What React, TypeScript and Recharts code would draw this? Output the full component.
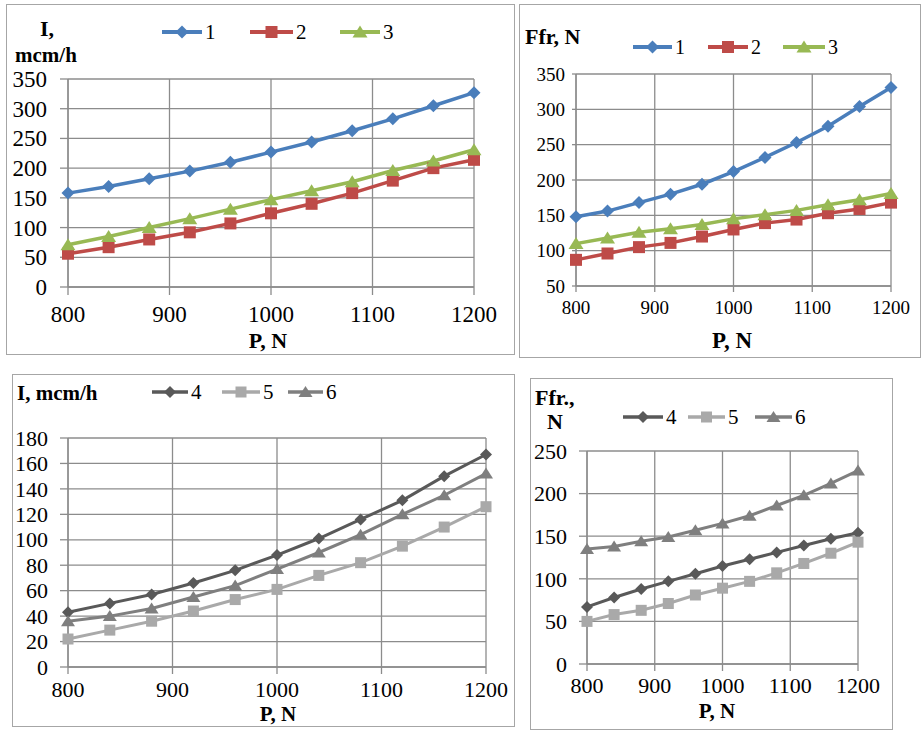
import React from 'react';
import { LineChart, Line, XAxis, YAxis, CartesianGrid } from 'recharts';

// load on the pin, N
const P = [800, 840, 880, 920, 960, 1000, 1040, 1080, 1120, 1160, 1200];
const X_TICKS = [800, 900, 1000, 1100, 1200];

// wear rate I, mcm/h (top)
const I_1 = [158, 169, 182, 195, 210, 227, 244, 263, 283, 305, 327];
const I_2 = [56, 67, 80, 92, 107, 124, 140, 158, 179, 200, 214];
const I_3 = [71, 85, 100, 115, 131, 147, 162, 177, 196, 212, 231];
// friction force Ffr, N (top)
const F_1 = [148, 156, 168, 180, 194, 212, 232, 253, 276, 304, 331];
const F_2 = [87, 96, 105, 111, 120, 130, 139, 144, 153, 159, 168];
const F_3 = [110, 118, 126, 131, 137, 145, 151, 157, 165, 172, 181];
// wear rate I, mcm/h (bottom)
const I_4 = [43, 50, 57, 66, 76, 88, 101, 116, 131, 150, 167];
const I_5 = [22, 29, 36, 44, 53, 61, 72, 82, 95, 110, 126];
const I_6 = [36, 40, 46, 55, 64, 77, 90, 104, 120, 135, 152];
// friction force Ffr, N (bottom)
const F_4 = [67, 78, 88, 97, 106, 115, 123, 131, 139, 147, 154];
const F_5 = [50, 58, 63, 71, 81, 89, 97, 107, 118, 130, 143];
const F_6 = [135, 138, 144, 149, 157, 165, 174, 186, 198, 212, 227];

const Y_TICKS_A = [0, 50, 100, 150, 200, 250, 300, 350];
const Y_TICKS_B = [50, 100, 150, 200, 250, 300, 350];
const Y_TICKS_C = [0, 20, 40, 60, 80, 100, 120, 140, 160, 180];
const Y_TICKS_D = [0, 50, 100, 150, 200, 250];

const FONT = '"Liberation Serif", "Times New Roman", serif';
const GRID = '#8c8c8c';

type Kind = 'diamond' | 'square' | 'triangle';

function marker(kind: Kind, cx: number, cy: number, color: string, s: number, key?: string) {
  if (kind === 'diamond') {
    return <path key={key} d={`M${cx},${cy - s}L${cx + s},${cy}L${cx},${cy + s}L${cx - s},${cy}Z`} fill={color} />;
  }
  if (kind === 'square') {
    const h = s - 0.5;
    return <rect key={key} x={cx - h} y={cy - h} width={h * 2} height={h * 2} fill={color} />;
  }
  return <path key={key} d={`M${cx},${cy - s}L${cx + s + 1},${cy + s - 1}L${cx - s - 1},${cy + s - 1}Z`} fill={color} />;
}

const serifTick = (size: number, axis: 'x' | 'y') => (t: any) => (
  <text
    x={t.x}
    y={t.y}
    dy={axis === 'x' ? '0.71em' : '0.35em'}
    textAnchor={axis === 'x' ? 'middle' : 'end'}
    fontSize={size}
    fontFamily={FONT}
    fill="#000"
  >
    {t.payload.value}
  </text>
);

interface Series {
  name: string;
  values: number[];
  color: string;
  kind: Kind;
}

interface PanelProps {
  box: { left: number; top: number; right: number; bottom: number };
  plot: { left: number; top: number; right: number; bottom: number };
  series: Series[];
  yDomain: [number, number];
  yTicks: number[];
  tickFont: number;
  yTick: [number, number];
  xTick: [number, number];
  strokeW: number;
  markSize: number;
  legend: { y: number; lines: [number, number][]; font: number };
  titles: { text: string; x: number; y: number; size: number }[];
  xTitle: { x: number; y: number; size: number };
}

function Panel(p: PanelProps) {
  const w = p.box.right - p.box.left;
  const h = p.box.bottom - p.box.top;
  const yw = 50;
  const xh = 50;
  const data = P.map((x, i) => {
    const row: Record<string, number> = { p: x };
    p.series.forEach((s) => (row[s.name] = s.values[i]));
    return row;
  });

  return (
    <>
      <div
        style={{
          position: 'absolute',
          left: p.box.left,
          top: p.box.top,
          width: w - 2,
          height: h - 2,
          border: '1px solid #a6a6a6',
        }}
      />
      <div style={{ position: 'absolute', left: p.box.left, top: p.box.top }}>
        <LineChart
          width={w}
          height={h}
          data={data}
          margin={{
            top: p.plot.top - p.box.top,
            right: p.box.right - p.plot.right,
            bottom: p.box.bottom - p.plot.bottom - xh,
            left: p.plot.left - p.box.left - yw,
          }}
        >
          <CartesianGrid stroke={GRID} strokeWidth={1.3} />
          <XAxis
            dataKey="p"
            type="number"
            domain={[800, 1200]}
            ticks={X_TICKS}
            height={xh}
            tickSize={p.xTick[0]}
            tickMargin={p.xTick[1]}
            tickLine={{ stroke: GRID, strokeWidth: 1.3 }}
            axisLine={{ stroke: GRID, strokeWidth: 1.3 }}
            tick={serifTick(p.tickFont, 'x')}
            interval={0}
          />
          <YAxis
            type="number"
            domain={p.yDomain}
            ticks={p.yTicks}
            width={yw}
            tickSize={p.yTick[0]}
            tickMargin={p.yTick[1]}
            tickLine={{ stroke: GRID, strokeWidth: 1.3 }}
            axisLine={{ stroke: GRID, strokeWidth: 1.3 }}
            tick={serifTick(p.tickFont, 'y')}
            interval={0}
          />
          {p.series.map((s) => (
            <Line
              key={s.name}
              dataKey={s.name}
              stroke={s.color}
              strokeWidth={p.strokeW}
              isAnimationActive={false}
              dot={(d: any) => marker(s.kind, d.cx, d.cy, s.color, p.markSize, `${s.name}-${d.index}`)}
              activeDot={false}
            />
          ))}
        </LineChart>
      </div>
      <svg
        width={924}
        height={731}
        style={{ position: 'absolute', left: 0, top: 0, pointerEvents: 'none' }}
      >
        {p.series.map((s, i) => {
          const [x1, x2] = p.legend.lines[i];
          return (
            <g key={s.name}>
              <line x1={x1} x2={x2} y1={p.legend.y} y2={p.legend.y} stroke={s.color} strokeWidth={p.strokeW + 0.5} />
              {marker(s.kind, (x1 + x2) / 2, p.legend.y, s.color, p.markSize)}
              <text x={x2 + 3} y={p.legend.y} dy="0.35em" fontSize={p.legend.font} fontFamily={FONT} fill="#000">
                {s.name}
              </text>
            </g>
          );
        })}
        {p.titles.map((t) => (
          <text
            key={t.text}
            x={t.x}
            y={t.y}
            dy="0.35em"
            fontSize={t.size}
            fontFamily={FONT}
            fontWeight="bold"
            fill="#000"
          >
            {t.text}
          </text>
        ))}
        <text
          x={p.xTitle.x}
          y={p.xTitle.y}
          dy="0.35em"
          textAnchor="middle"
          fontSize={p.xTitle.size}
          fontFamily={FONT}
          fontWeight="bold"
          fill="#000"
        >
          P, N
        </text>
      </svg>
    </>
  );
}

const BLUE = '#4a7ebb';
const RED = '#be4b48';
const GREEN = '#98b954';
const DARK = '#595959';
const LIGHT = '#a9a9a9';
const MID = '#7f7f7f';

export default function App() {
  return (
    <div style={{ position: 'absolute', left: 0, top: 0, width: 924, height: 731, background: '#fff' }}>
      <Panel
        box={{ left: 6, top: 4, right: 515, bottom: 355 }}
        plot={{ left: 68, top: 79, right: 474, bottom: 287 }}
        series={[
          { name: '1', values: I_1, color: BLUE, kind: 'diamond' },
          { name: '2', values: I_2, color: RED, kind: 'square' },
          { name: '3', values: I_3, color: GREEN, kind: 'triangle' },
        ]}
        yDomain={[0, 350]}
        yTicks={Y_TICKS_A}
        tickFont={23}
        yTick={[8, 13]}
        xTick={[8, 11]}
        strokeW={3.5}
        markSize={6.5}
        legend={{ y: 32, lines: [[162, 202], [250, 293], [340, 380]], font: 21 }}
        titles={[
          { text: 'I,', x: 40, y: 28, size: 22 },
          { text: 'mcm/h', x: 15, y: 55, size: 21 },
        ]}
        xTitle={{ x: 268, y: 340, size: 22 }}
      />
      <Panel
        box={{ left: 519, top: 4, right: 921, bottom: 358 }}
        plot={{ left: 576, top: 74, right: 891, bottom: 286 }}
        series={[
          { name: '1', values: F_1, color: BLUE, kind: 'diamond' },
          { name: '2', values: F_2, color: RED, kind: 'square' },
          { name: '3', values: F_3, color: GREEN, kind: 'triangle' },
        ]}
        yDomain={[50, 350]}
        yTicks={Y_TICKS_B}
        tickFont={19}
        yTick={[4, 7]}
        xTick={[6, 9]}
        strokeW={3.5}
        markSize={6.5}
        legend={{ y: 47, lines: [[633, 672], [708, 748], [783, 825]], font: 20 }}
        titles={[{ text: 'Ffr,  N', x: 525, y: 36, size: 22 }]}
        xTitle={{ x: 732, y: 340, size: 23 }}
      />
      <Panel
        box={{ left: 12, top: 374, right: 515, bottom: 727 }}
        plot={{ left: 68, top: 438, right: 486, bottom: 667 }}
        series={[
          { name: '4', values: I_4, color: DARK, kind: 'diamond' },
          { name: '5', values: I_5, color: LIGHT, kind: 'square' },
          { name: '6', values: I_6, color: MID, kind: 'triangle' },
        ]}
        yDomain={[0, 180]}
        yTicks={Y_TICKS_C}
        tickFont={22}
        yTick={[8, 12]}
        xTick={[7, 7]}
        strokeW={3}
        markSize={6}
        legend={{ y: 392, lines: [[152, 188], [222, 260], [288, 323]], font: 21 }}
        titles={[{ text: 'I, mcm/h', x: 17, y: 393, size: 21 }]}
        xTitle={{ x: 278, y: 714, size: 21 }}
      />
      <Panel
        box={{ left: 530, top: 378, right: 893, bottom: 730 }}
        plot={{ left: 587, top: 451, right: 858, bottom: 664 }}
        series={[
          { name: '4', values: F_4, color: DARK, kind: 'diamond' },
          { name: '5', values: F_5, color: LIGHT, kind: 'square' },
          { name: '6', values: F_6, color: MID, kind: 'triangle' },
        ]}
        yDomain={[0, 250]}
        yTicks={Y_TICKS_D}
        tickFont={22}
        yTick={[8, 12]}
        xTick={[7, 6]}
        strokeW={3}
        markSize={6}
        legend={{ y: 417, lines: [[623, 663], [688, 725], [755, 792]], font: 21 }}
        titles={[
          { text: 'Ffr.,', x: 535, y: 397, size: 22 },
          { text: 'N', x: 547, y: 421, size: 22 },
        ]}
        xTitle={{ x: 717, y: 711, size: 21 }}
      />
    </div>
  );
}
